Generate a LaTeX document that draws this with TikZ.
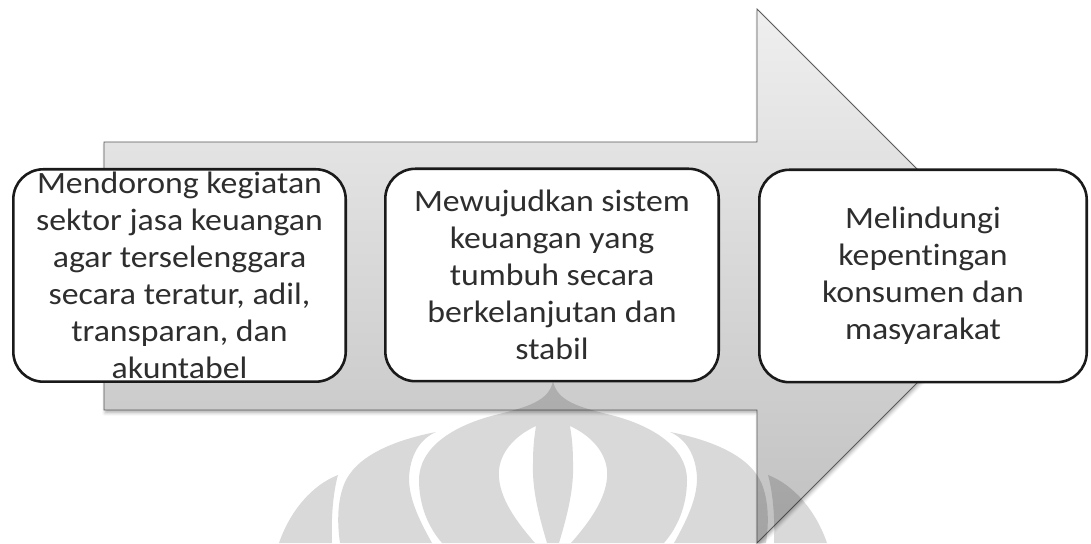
\documentclass[tikz,border=0pt]{standalone}
\usepackage{fontspec}
\setmainfont{Carlito}[FakeStretch=1.09, Ligatures={TeX,NoCommon}]
\usetikzlibrary{shadows.blur}
\definecolor{boxtext}{HTML}{2E2E2E}
\definecolor{boxline}{HTML}{1A1A1A}
\definecolor{arrowtop}{HTML}{EFEFEF}
\definecolor{arrowbottom}{HTML}{C0C0C0}
\definecolor{arrowline}{HTML}{5A5A5A}
\begin{document}
\begin{tikzpicture}[x=1pt,y=1pt,
  stagebox/.style={draw=boxline, line width=2.6pt, fill=white,
    rounded corners=30pt, inner sep=0pt, minimum height=212.4pt},
  stagetext/.style={align=center, text=boxtext, inner sep=0pt,
    font=\fontsize{31}{37}\selectfont},
  wmshape/.style={fill=black, fill opacity=0.15, draw=none},
]
\useasboundingbox (0,0) rectangle (1091,543);

% the big block arrow behind the three stages
\coordinate (shaftTL) at (104,401);
\coordinate (shaftBL) at (104,133);
\coordinate (headTop) at (757,534);
\coordinate (headBot) at (757,0);
\coordinate (tip) at (1024,267);
\path[draw=arrowline, line width=0.8pt, line join=miter,
      top color=arrowtop, bottom color=arrowbottom,
      blur shadow={shadow xshift=1pt, shadow yshift=-3pt,
                   shadow blur radius=3pt, shadow opacity=30}]
  (shaftTL) -- (757,401) -- (headTop) -- (tip) -- (headBot)
  -- (757,133) -- (shaftBL) -- cycle;

% faint emblem at the bottom: central bulb with two slits
\path[wmshape, even odd rule]
  (553,162) .. controls (549,142) and (528,136) .. (495,128)
  .. controls (452,117) and (419,95) .. (419,63)
  .. controls (419,38) and (428,16) .. (442,0)
  -- (664,0)
  .. controls (678,16) and (687,38) .. (687,63)
  .. controls (687,95) and (654,117) .. (611,128)
  .. controls (578,136) and (557,142) .. (553,162) -- cycle
  (536,117) .. controls (510,105) and (497,85) .. (499,65)
  .. controls (501,40) and (522,15) .. (535,0) -- (547,0)
  .. controls (538,30) and (532,55) .. (533,80)
  .. controls (533,100) and (535,110) .. (536,117) -- cycle
  (570,117) .. controls (596,105) and (609,85) .. (607,65)
  .. controls (605,40) and (584,15) .. (571,0) -- (559,0)
  .. controls (568,30) and (574,55) .. (573,80)
  .. controls (573,100) and (571,110) .. (570,117) -- cycle;
% side petals, left and mirrored right
\foreach \flip/\shift in {1/0pt, -1/1106pt} {
  \begin{scope}[xshift=\shift, xscale=\flip]
    \path[wmshape]
      (436,111) .. controls (400,104) and (360,90) .. (346,63)
      .. controls (337,45) and (337,20) .. (340,0) -- (432,0)
      .. controls (418,25) and (409,45) .. (409,65)
      .. controls (410,88) and (420,104) .. (436,111) -- cycle;
    \path[wmshape]
      (338,68) .. controls (312,58) and (290,32) .. (279,0)
      -- (332,0) .. controls (331,25) and (333,50) .. (338,68) -- cycle;
  \end{scope}
}

% the three stages
\node[stagebox, minimum width=332.4pt] (b1) at (179.5,267.5) {};
\node[stagebox, minimum width=333.4pt] (b2) at (552,268) {};
\node[stagebox, minimum width=327.4pt] (b3) at (923,267) {};

\node[stagetext] (t1) at (b1.center) {Mendorong kegiatan\\ sektor jasa keuangan\\ agar terselenggara\\ secara teratur, adil,\\ transparan, dan\\ akuntabel};
\node[stagetext] (t2) at (b2.center) {Mewujudkan sistem\\ keuangan yang\\ tumbuh secara\\ berkelanjutan dan\\ stabil};
\node[stagetext] (t3) at (b3.center) {Melindungi\\ kepentingan\\ konsumen dan\\ masyarakat};
\end{tikzpicture}
\end{document}
